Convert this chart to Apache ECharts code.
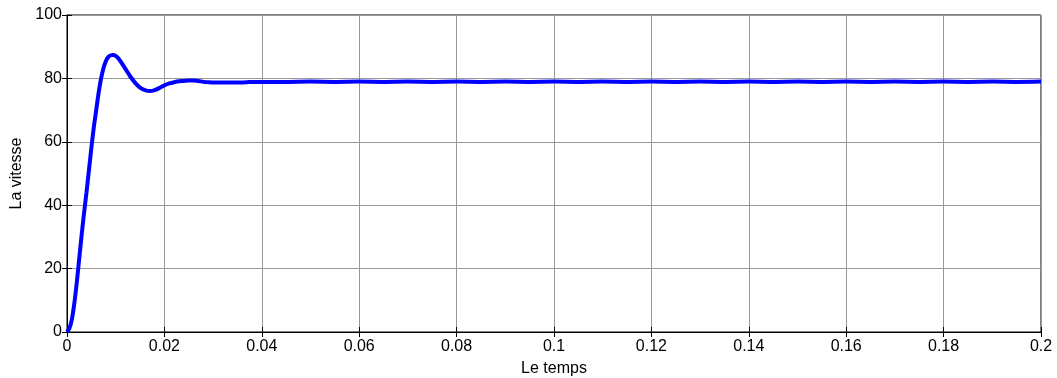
<!DOCTYPE html>
<html>
<head>
<meta charset="utf-8">
<script src="https://cdn.jsdelivr.net/npm/echarts@6/dist/echarts.min.js"></script>
<style>
	html, body { margin: 0; padding: 0; background: #fff; }
	#chart { width: 1057px; height: 378px; }
</style>
</head>
<body>
<div id="chart"></div>
<script>
	// temps (s) et vitesse
	var temps = [
		0, 0.0005, 0.001, 0.0015, 0.002, 0.0025, 0.003, 0.0035, 0.004, 0.0045,
		0.005, 0.0055, 0.006, 0.0065, 0.007, 0.0075, 0.008, 0.0085, 0.009, 0.0095,
		0.01, 0.0105, 0.011, 0.0115, 0.012, 0.013, 0.014, 0.015, 0.016, 0.017,
		0.018, 0.019, 0.02, 0.021, 0.022, 0.023, 0.024, 0.025, 0.026, 0.027,
		0.028, 0.029, 0.03, 0.032, 0.034, 0.036, 0.037, 0.038, 0.04, 0.045,
		0.05, 0.055, 0.06, 0.065, 0.07, 0.075, 0.08, 0.085, 0.09, 0.095,
		0.1, 0.105, 0.11, 0.115, 0.12, 0.125, 0.13, 0.135, 0.14, 0.145,
		0.15, 0.155, 0.16, 0.165, 0.17, 0.175, 0.18, 0.185, 0.19, 0.195, 0.2
	];
	var vitesse = [
		0, 1.2, 4, 9, 15.5, 23, 30.5, 37.5, 44, 51,
		58, 64.5, 70, 75.5, 80, 83.3, 85.5, 86.8, 87.3, 87.4,
		87.1, 86.4, 85.4, 84.2, 83, 80.6, 78.6, 77.1, 76.3, 76,
		76.3, 77, 77.8, 78.4, 78.8, 79.1, 79.2, 79.3, 79.3, 79.2,
		78.9, 78.8, 78.7, 78.7, 78.7, 78.7, 78.8, 78.9, 78.9, 78.9,
		79, 78.9, 79, 78.9, 79, 78.9, 79, 78.9, 79, 78.9,
		79, 78.9, 79, 78.9, 79, 78.9, 79, 78.9, 79, 78.9,
		79, 78.9, 79, 78.9, 79, 78.9, 79, 78.9, 79, 78.9, 79
	];
	var data = temps.map(function(t, i) { return [t, vitesse[i]]; });

	var police = 'Liberation Sans, Arial, sans-serif';
	var option = {
		animation: false,
		grid: {
			left: 67,
			right: 16,
			top: 15,
			bottom: 46,
			containLabel: false,
			outerBoundsMode: 'none',
			show: true,
			borderColor: '#000',
			borderWidth: 1
		},
		xAxis: [{
			type: 'value',
			min: 0,
			max: 0.2,
			interval: 0.02,
			name: 'Le temps',
			nameLocation: 'middle',
			nameGap: 29,
			nameTextStyle: { color: '#000', fontSize: 16, fontFamily: police },
			axisLine: { show: true, onZero: false, lineStyle: { color: '#000', width: 1 } },
			axisTick: { show: true, inside: true, length: 5, lineStyle: { color: '#000' } },
			axisLabel: {
				color: '#000', fontSize: 16, fontFamily: police, margin: 7,
				formatter: function(v) { return String(parseFloat(v.toFixed(2))); }
			},
			splitLine: { show: true, lineStyle: { color: '#999', width: 1 } }
		}, {
			type: 'value',
			position: 'top',
			min: 0,
			max: 0.2,
			interval: 0.02,
			axisLine: { show: true, lineStyle: { color: '#000' } },
			axisTick: { show: true, inside: true, length: 5, lineStyle: { color: '#000' } },
			axisLabel: { show: false },
			splitLine: { show: false }
		}],
		yAxis: [{
			type: 'value',
			min: 0,
			max: 100,
			interval: 20,
			name: 'La vitesse',
			nameLocation: 'middle',
			nameGap: 42,
			nameTextStyle: { color: '#000', fontSize: 16, fontFamily: police },
			axisLine: { show: true, onZero: false, lineStyle: { color: '#000', width: 1 } },
			axisTick: { show: true, inside: true, length: 5, lineStyle: { color: '#000' } },
			axisLabel: { color: '#000', fontSize: 16, fontFamily: police, margin: 5 },
			splitLine: { show: true, lineStyle: { color: '#999', width: 1 } }
		}, {
			type: 'value',
			position: 'right',
			min: 0,
			max: 100,
			interval: 20,
			axisLine: { show: true, lineStyle: { color: '#000' } },
			axisTick: { show: true, inside: true, length: 5, lineStyle: { color: '#000' } },
			axisLabel: { show: false },
			splitLine: { show: false }
		}],
		series: [{
			type: 'line',
			data: data,
			showSymbol: false,
			smooth: 0.3,
			lineStyle: { color: '#0000ff', width: 4 },
			itemStyle: { color: '#0000ff' }
		}]
	};

	var myChart = echarts.init(document.getElementById('chart'));
	myChart.setOption(option);
</script>
</body>
</html>
